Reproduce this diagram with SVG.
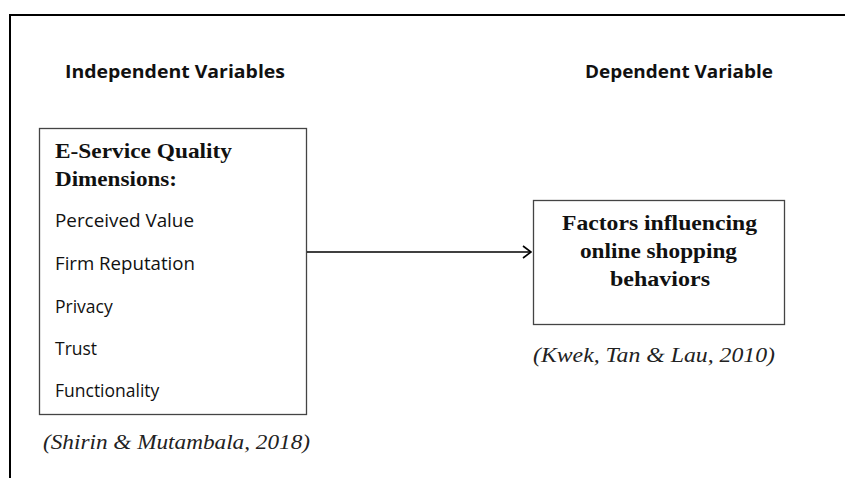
<svg xmlns="http://www.w3.org/2000/svg" width="845" height="478" viewBox="0 0 845 478">
<style>
.hdr{font-family:"Open Sans","Liberation Sans",sans-serif;font-weight:bold;font-size:17.5px;fill:#111}
.item{font-family:"Open Sans","Liberation Sans",sans-serif;font-size:17.5px;fill:#111}
.ttl{font-family:"Liberation Serif","Times New Roman",serif;font-weight:bold;font-size:21px;fill:#111}
.cite{font-family:"Liberation Serif","Times New Roman",serif;font-style:italic;font-size:20px;fill:#222}
.box{fill:#fff;stroke:#444;stroke-width:1.3}
.conn{stroke:#000;stroke-width:1.6;fill:none}
</style>
<defs>
<marker id="arr" viewBox="0 0 10 14" refX="9" refY="7" markerWidth="10" markerHeight="14" markerUnits="userSpaceOnUse" orient="auto">
<path d="M1,1 L9,7 L1,13" fill="none" stroke="#000" stroke-width="1.6"/>
</marker>
</defs>
<rect width="845" height="478" fill="#fff"/>
<path d="M10,478 V15 H845" fill="none" stroke="#000" stroke-width="2"/>
<g id="hdr-left"><text class="hdr" x="65" y="78" textLength="220" lengthAdjust="spacingAndGlyphs">Independent Variables</text></g>
<g id="hdr-right"><text class="hdr" x="585" y="78" textLength="188" lengthAdjust="spacingAndGlyphs">Dependent Variable</text></g>
<g id="independent">
<rect class="box" x="39.5" y="128.5" width="267" height="286"/>
<text class="ttl" x="55" y="158" textLength="177" lengthAdjust="spacingAndGlyphs">E-Service Quality</text>
<text class="ttl" x="55" y="186" textLength="122" lengthAdjust="spacingAndGlyphs">Dimensions:</text>
<text class="item" x="55" y="227" textLength="139" lengthAdjust="spacingAndGlyphs">Perceived Value</text>
<text class="item" x="55" y="270" textLength="140" lengthAdjust="spacingAndGlyphs">Firm Reputation</text>
<text class="item" x="55" y="313">Privacy</text>
<text class="item" x="55" y="355">Trust</text>
<text class="item" x="55" y="397">Functionality</text>
</g>
<g id="cite-left"><text class="cite" x="43" y="449" textLength="267" lengthAdjust="spacingAndGlyphs">(Shirin &amp; Mutambala, 2018)</text></g>
<g id="dependent">
<rect class="box" x="533.5" y="200.5" width="251" height="124"/>
<text class="ttl" x="562" y="230" textLength="195" lengthAdjust="spacingAndGlyphs">Factors influencing</text>
<text class="ttl" x="580" y="258" textLength="157" lengthAdjust="spacingAndGlyphs">online shopping</text>
<text class="ttl" x="610" y="286" textLength="100" lengthAdjust="spacingAndGlyphs">behaviors</text>
</g>
<g id="cite-right"><text class="cite" x="533" y="362" textLength="242" lengthAdjust="spacingAndGlyphs">(Kwek, Tan &amp; Lau, 2010)</text></g>
<g id="connectors">
<line class="conn" x1="307" y1="252" x2="531" y2="252" marker-end="url(#arr)"/>
</g>
</svg>
